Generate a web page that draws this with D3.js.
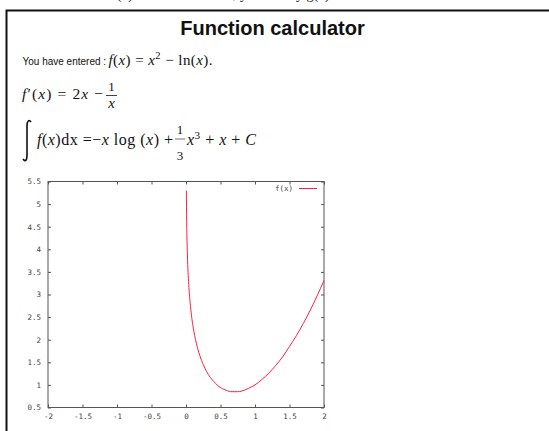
<!DOCTYPE html>
<html>
<head>
<meta charset="utf-8">
<script src="https://cdn.jsdelivr.net/npm/d3@7"></script>
<style>
  html, body { margin: 0; padding: 0; background: #fff; }
  svg { display: block; }
  .math { font-family: "Liberation Serif", "Times New Roman", serif; fill: #111; }
  .tick text { font-family: "DejaVu Sans Mono", monospace; font-size: 7.5px; fill: #444; }
</style>
</head>
<body>
<div id="chart"></div>
<script>
const xs = [0.005, 0.01, 0.02, 0.04, 0.06, 0.08, 0.1, 0.15, 0.2, 0.25, 0.3, 0.35, 0.4, 0.45, 0.5,
  0.55, 0.6, 0.65, 0.707, 0.75, 0.8, 0.9, 1.0, 1.1, 1.2, 1.3, 1.4, 1.5, 1.6, 1.7, 1.8, 1.9, 2.0]
const ys = [5.30, 4.61, 3.91, 3.22, 2.82, 2.53, 2.31, 1.92, 1.65, 1.45, 1.29, 1.17, 1.08, 1.00, 0.94,
  0.90, 0.87, 0.85, 0.85, 0.85, 0.86, 0.92, 1.00, 1.12, 1.26, 1.43, 1.62, 1.85, 2.09, 2.36, 2.65, 2.97, 3.31]
const xTicks = [-2, -1.5, -1, -0.5, 0, 0.5, 1, 1.5, 2]
const yTicks = [0.5, 1, 1.5, 2, 2.5, 3, 3.5, 4, 4.5, 5, 5.5]
const seriesName = 'f(x)'

const W = 549, H = 431
const plot = { left: 48, top: 181.5, right: 324, bottom: 407.5 }

const svg = d3.select('#chart').append('svg').attr('width', W).attr('height', H)

// page box border
svg.append('rect').attr('x', 6.5).attr('y', 10.5).attr('width', 600).attr('height', 500)
  .attr('fill', 'none').attr('stroke', '#111').attr('stroke-width', 2)

// line above the box, mostly scrolled out of view
svg.append('text').attr('class', 'math').attr('x', 112).attr('y', -1).style('font-size', '14px')
  .text('f(x) and its derivative, you can try g(x)')

svg.append('text').attr('x', 272.5).attr('y', 35).attr('text-anchor', 'middle')
  .style('font-family', '"Liberation Sans", Arial, sans-serif').style('font-size', '20px')
  .style('font-weight', 'bold').attr('fill', '#111').text('Function calculator')

// line 1
svg.append('text').attr('x', 22.5).attr('y', 65)
  .style('font-family', '"Liberation Sans", Arial, sans-serif').style('font-size', '10px')
  .attr('fill', '#111').text('You have entered :')

function mathText(x, y, size, parts, len) {
  const t = svg.append('text').attr('class', 'math').attr('x', x).attr('y', y).style('font-size', size + 'px')
  if (len) t.attr('textLength', len).attr('lengthAdjust', 'spacing')
  parts.forEach(p => {
    const s = t.append('tspan').text(p.t)
    if (p.i) s.style('font-style', 'italic')
    if (p.sup) s.attr('dy', -6).style('font-size', (size * 0.7) + 'px')
    if (p.down) s.attr('dy', 6)
  })
  return t
}

mathText(108.5, 65, 15, [
  { t: 'f', i: 1 }, { t: '(' }, { t: 'x', i: 1 }, { t: ') = ' }, { t: 'x', i: 1 },
  { t: '2', sup: 1 }, { t: ' − ln(', down: 1 }, { t: 'x', i: 1 }, { t: ').' }
], 104)

// line 2: derivative
mathText(22, 99, 15.5, [
  { t: 'f', i: 1 }, { t: '′(' }, { t: 'x', i: 1 }, { t: ') = 2' }, { t: 'x', i: 1 }, { t: ' −' }
], 81)
svg.append('text').attr('class', 'math').attr('x', 111.5).attr('y', 90.5).attr('text-anchor', 'middle')
  .style('font-size', '13px').text('1')
svg.append('line').attr('x1', 106).attr('x2', 117).attr('y1', 95.5).attr('y2', 95.5)
  .attr('stroke', '#111').attr('stroke-width', 0.8)
svg.append('text').attr('class', 'math').attr('x', 111.5).attr('y', 108).attr('text-anchor', 'middle')
  .style('font-size', '15px').style('font-style', 'italic').text('x')

// line 3: integral
svg.append('path').attr('d', 'M31,122 C29,119 27,121 27,126 L27,155 C27,161 25,162 23,159')
  .attr('fill', 'none').attr('stroke', '#111').attr('stroke-width', 1.6)
mathText(37, 145, 16, [
  { t: 'f', i: 1 }, { t: '(' }, { t: 'x', i: 1 }, { t: ')dx =−' }, { t: 'x', i: 1 }, { t: ' log (' },
  { t: 'x', i: 1 }, { t: ') +' }
], 136)
svg.append('text').attr('class', 'math').attr('x', 180).attr('y', 134).attr('text-anchor', 'middle')
  .style('font-size', '13px').text('1')
svg.append('line').attr('x1', 175).attr('x2', 185).attr('y1', 139).attr('y2', 139)
  .attr('stroke', '#111').attr('stroke-width', 0.6)
svg.append('text').attr('class', 'math').attr('x', 180).attr('y', 159.5).attr('text-anchor', 'middle')
  .style('font-size', '13px').text('3')
mathText(187, 145, 16, [
  { t: 'x', i: 1 }, { t: '3', sup: 1 }, { t: ' + ', down: 1 }, { t: 'x', i: 1 }, { t: ' + ' }, { t: 'C', i: 1 }
], 69)

// plot
const x = d3.scaleLinear().domain([-2, 2]).range([plot.left, plot.right])
const y = d3.scaleLinear().domain([0.5, 5.5]).range([plot.bottom, plot.top])
const frame = '#555'
const fmt = d => String(d)

function styleAxis(g) {
  g.select('.domain').remove()
  g.selectAll('.tick line').attr('stroke', frame)
}

svg.append('g').attr('transform', `translate(0,${plot.bottom})`)
  .call(d3.axisBottom(x).tickValues(xTicks).tickFormat(fmt).tickSizeInner(-3).tickSizeOuter(0).tickPadding(6))
  .call(styleAxis)
svg.append('g').attr('transform', `translate(0,${plot.top})`)
  .call(d3.axisTop(x).tickValues(xTicks).tickFormat('').tickSizeInner(-3).tickSizeOuter(0))
  .call(styleAxis)
svg.append('g').attr('transform', `translate(${plot.left},0)`)
  .call(d3.axisLeft(y).tickValues(yTicks).tickFormat(fmt).tickSizeInner(-3).tickSizeOuter(0).tickPadding(7))
  .call(styleAxis)
svg.append('g').attr('transform', `translate(${plot.right},0)`)
  .call(d3.axisRight(y).tickValues(yTicks).tickFormat('').tickSizeInner(-3).tickSizeOuter(0))
  .call(styleAxis)

svg.append('rect').attr('x', plot.left).attr('y', plot.top)
  .attr('width', plot.right - plot.left).attr('height', plot.bottom - plot.top)
  .attr('fill', 'none').attr('stroke', frame).attr('stroke-width', 1)

const pts = xs.map((v, i) => [v, ys[i]])
const line = d3.line().x(d => x(d[0])).y(d => y(d[1])).curve(d3.curveMonotoneX)
svg.append('path').datum(pts).attr('d', line)
  .attr('fill', 'none').attr('stroke', '#ff2040').attr('stroke-width', 1)

// legend
svg.append('text').attr('x', 293).attr('y', 190.5).attr('text-anchor', 'end')
  .style('font-family', '"DejaVu Sans Mono", monospace').style('font-size', '7.5px').attr('fill', '#444')
  .text(seriesName)
svg.append('line').attr('x1', 299).attr('x2', 317).attr('y1', 188.5).attr('y2', 188.5)
  .attr('stroke', '#ff2040').attr('stroke-width', 1)
</script>
</body>
</html>
